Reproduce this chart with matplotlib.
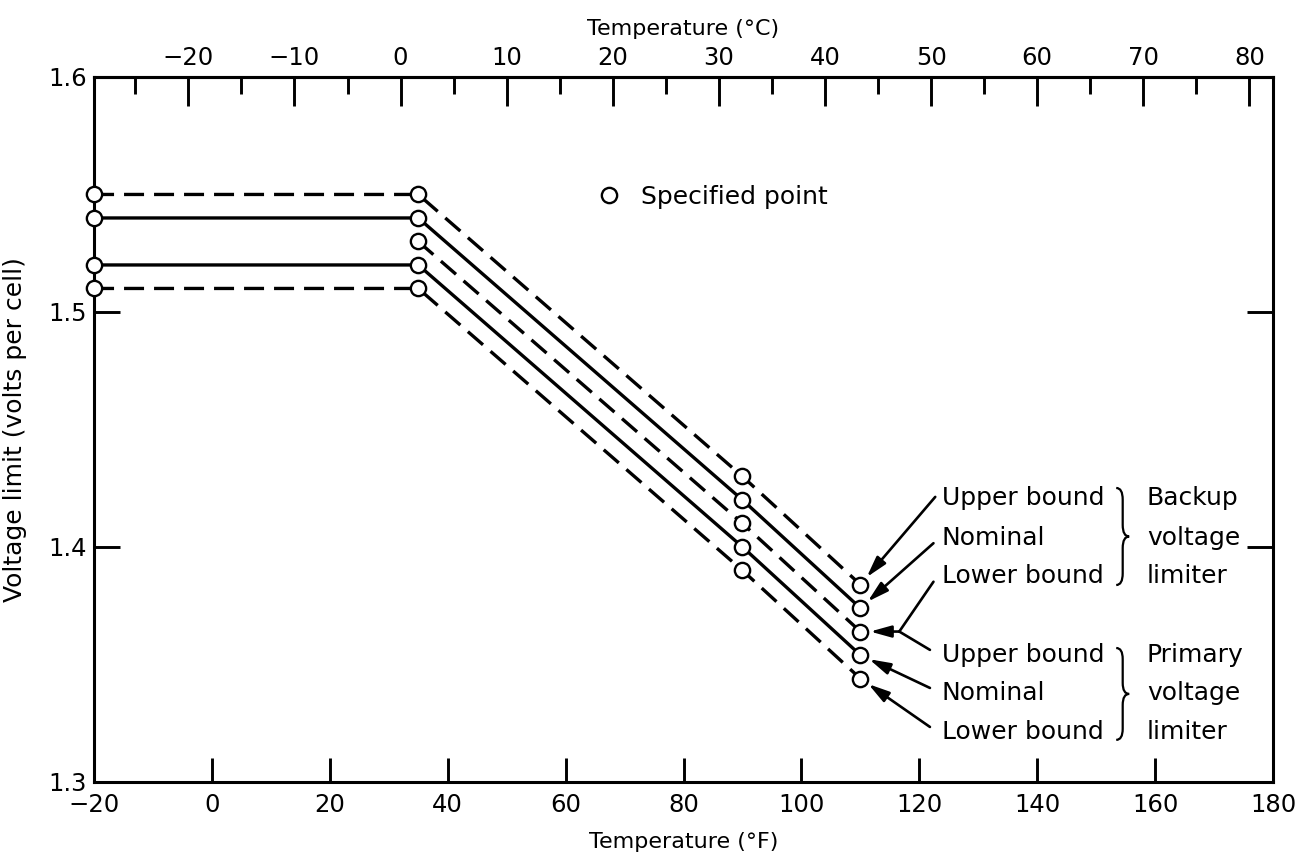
import matplotlib
matplotlib.use("Agg")
import matplotlib.pyplot as plt
from matplotlib.lines import Line2D
from matplotlib.path import Path
from matplotlib.patches import PathPatch
from matplotlib.ticker import MultipleLocator

# specified points (temperature in F, volts per cell)
temp_f = [-20, 35, 90, 110]
temp_f_shared = [35, 90, 110]
backup_upper = [1.55, 1.55, 1.43, 1.384]
backup_nominal = [1.54, 1.54, 1.42, 1.374]
shared_bound = [1.53, 1.41, 1.364]  # backup lower bound == primary upper bound
primary_nominal = [1.52, 1.52, 1.40, 1.354]
primary_lower = [1.51, 1.51, 1.39, 1.344]

x_ticks_f = [-20, 0, 20, 40, 60, 80, 100, 120, 140, 160, 180]
x_ticks_c = [-20, -10, 0, 10, 20, 30, 40, 50, 60, 70, 80]
y_ticks = [1.3, 1.4, 1.5, 1.6]

bound_labels = ["Upper bound", "Nominal", "Lower bound"]
backup_words = ["Backup", "voltage", "limiter"]
primary_words = ["Primary", "voltage", "limiter"]


def f_to_c(f):
    return (f - 32) / 1.8


def c_to_f(c):
    return c * 1.8 + 32


def draw_brace(ax, x_left, x_tip, y_top, y_bot):
    xm = (x_left + x_tip) / 2
    ym = (y_top + y_bot) / 2
    q = (y_top - y_bot) * 0.12
    verts = [(x_left, y_top), (xm, y_top), (xm, y_top - q), (xm, ym + q),
             (xm, ym), (x_tip, ym), (xm, ym), (xm, ym - q),
             (xm, y_bot + q), (xm, y_bot), (x_left, y_bot)]
    codes = [Path.MOVETO, Path.CURVE3, Path.CURVE3, Path.LINETO,
             Path.CURVE3, Path.CURVE3, Path.CURVE3, Path.CURVE3,
             Path.LINETO, Path.CURVE3, Path.CURVE3]
    ax.add_patch(PathPatch(Path(verts, codes), fill=False, lw=1.6,
                           edgecolor="black", clip_on=False))


fig = plt.figure(figsize=(12.99, 8.59), dpi=100)
ax = fig.add_axes([0.0724, 0.0897, 0.9076, 0.8207])

dash = (0, (6, 3))
style = dict(color="black", lw=2.4, marker="o", ms=11, mfc="white",
             mec="black", mew=1.7, clip_on=False, zorder=3)
ax.plot(temp_f, backup_upper, ls=dash, **style)
ax.plot(temp_f, backup_nominal, ls="-", **style)
ax.plot(temp_f_shared, shared_bound, ls=dash, **style)
ax.plot(temp_f, primary_nominal, ls="-", **style)
ax.plot(temp_f, primary_lower, ls=dash, **style)

ax.set_xlim(-20, 180)
ax.set_ylim(1.3, 1.6)
ax.set_xticks(x_ticks_f)
ax.set_yticks(y_ticks)
ax.set_yticklabels([f"{v:.1f}" for v in y_ticks])
ax.tick_params(axis="x", direction="in", length=17, width=2.1, labelsize=17.5, pad=8, top=False)
ax.tick_params(axis="y", direction="in", length=19, width=2.1, labelsize=17.5, pad=5, right=True)
for sp in ax.spines.values():
    sp.set_linewidth(2.2)

secax = ax.secondary_xaxis("top", functions=(f_to_c, c_to_f))
secax.set_xticks(x_ticks_c)
secax.xaxis.set_minor_locator(MultipleLocator(5))
secax.tick_params(which="major", direction="in", length=21, width=2.1, labelsize=17.5, pad=5)
secax.tick_params(which="minor", direction="in", length=12, width=2.1)
secax.spines["top"].set_linewidth(2.2)
secax.set_xlabel("Temperature (°C)", fontsize=16, labelpad=8)

ax.set_xlabel("Temperature (°F)", fontsize=16, labelpad=11)
ax.set_ylabel("Voltage limit (volts per cell)", fontsize=18)
ax.yaxis.set_label_coords(-0.057, 0.5)

# legend for the circles
key = Line2D([], [], ls="none", marker="o", ms=11, mfc="white", mec="black", mew=1.7)
ax.legend([key], ["Specified point"], loc="center left", bbox_to_anchor=(0.4265, 0.83),
          frameon=False, fontsize=18, handlelength=1.0, handletextpad=0.75,
          borderpad=0, borderaxespad=0)

# labels on the right
text_x = 123.8
word_x = 158.6
backup_y = [1.4179, 1.4009, 1.3847]
primary_y = [1.3511, 1.3349, 1.3183]
for lab, word, y in zip(bound_labels, backup_words, backup_y):
    ax.text(text_x, y, lab, fontsize=18, va="baseline")
    ax.text(word_x, y, word, fontsize=18, va="baseline")
for lab, word, y in zip(bound_labels, primary_words, primary_y):
    ax.text(text_x, y, lab, fontsize=18, va="baseline")
    ax.text(word_x, y, word, fontsize=18, va="baseline")

draw_brace(ax, 153.4, 155.6, 1.4251, 1.3838)
draw_brace(ax, 153.4, 155.6, 1.357, 1.3179)

arrow = dict(arrowstyle="-|>,head_length=0.9,head_width=0.25", color="black",
             lw=1.9, mutation_scale=14, shrinkA=0, shrinkB=7)
plain = dict(arrowstyle="-", color="black", lw=1.9, shrinkA=0, shrinkB=0)

ax.annotate("", xy=(temp_f[-1], backup_upper[-1]), xytext=(122.7, 1.4213), arrowprops=arrow)
ax.annotate("", xy=(temp_f[-1], backup_nominal[-1]), xytext=(122.4, 1.4016), arrowprops=arrow)
junction = (116.6, shared_bound[-1])
ax.annotate("", xy=junction, xytext=(122.4, 1.3852), arrowprops=plain)
ax.annotate("", xy=junction, xytext=(121.8, 1.3562), arrowprops=plain)
ax.annotate("", xy=(temp_f_shared[-1], shared_bound[-1]), xytext=junction, arrowprops=arrow)
ax.annotate("", xy=(temp_f[-1], primary_nominal[-1]), xytext=(121.8, 1.340), arrowprops=arrow)
ax.annotate("", xy=(temp_f[-1], primary_lower[-1]), xytext=(121.8, 1.3234), arrowprops=arrow)

fig.savefig("out.png", dpi=100)
